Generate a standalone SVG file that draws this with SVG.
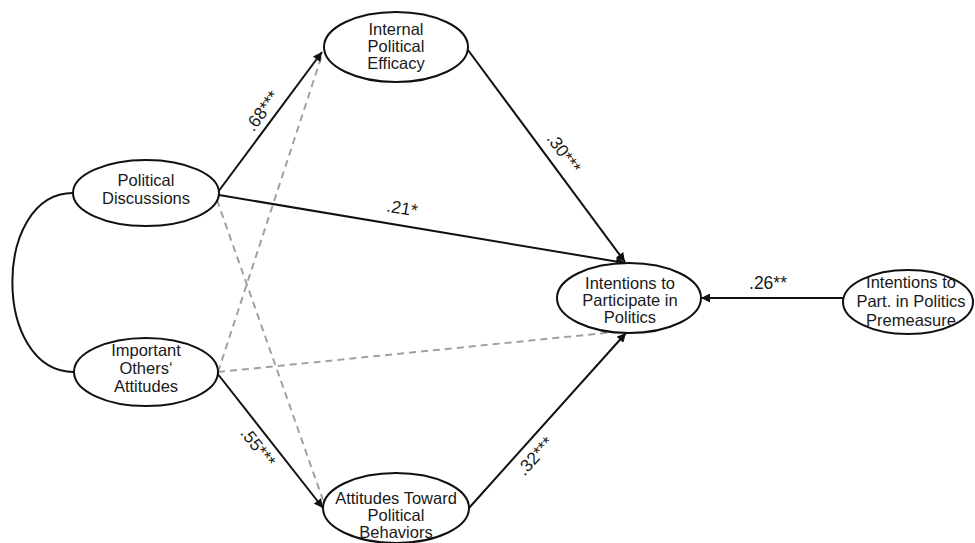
<svg xmlns="http://www.w3.org/2000/svg" width="975" height="543" viewBox="0 0 975 543">
<style>
.node ellipse{fill:#fff;stroke:#111;stroke-width:2}
.node text{font-family:"Liberation Sans",Arial,sans-serif;font-size:16.5px;fill:#1a1a1a;text-anchor:middle}
.solid{stroke:#111;stroke-width:2;fill:none}
.dash{stroke:#9aa3aa;stroke-width:2;stroke-dasharray:7 5;fill:none}
.lbl{font-family:"Liberation Sans",Arial,sans-serif;font-size:17.5px;fill:#1a1a1a;text-anchor:middle}
</style>
<defs>
<marker id="ah" viewBox="0 0 10 10" refX="10" refY="5" markerWidth="10" markerHeight="9" markerUnits="userSpaceOnUse" orient="auto"><path d="M0,0 L10,5 L0,10 z" fill="#111"/></marker>
</defs>
<g id="connectors">
<path class="solid" d="M73,193 C-8,193 -8,372 74,372"/>
<path class="dash" d="M217,200 L323,500"/>
<path class="dash" d="M218,372 L322,55"/>
<path class="dash" d="M218,372 L615,332"/>
<path class="solid" d="M218,192 L322,52" marker-end="url(#ah)"/>
<path class="solid" d="M219,195 L625,263" marker-end="url(#ah)"/>
<path class="solid" d="M468,50 L625,262" marker-end="url(#ah)"/>
<path class="solid" d="M217,373 L323,508" marker-end="url(#ah)"/>
<path class="solid" d="M469,508 L626,333" marker-end="url(#ah)"/>
<path class="solid" d="M843,298 L701,298" marker-end="url(#ah)"/>
<g transform="translate(262,111) rotate(-53.4)"><text class="lbl" x="0" y="6">.68***</text></g>
<g transform="translate(402,208) rotate(9.6)"><text class="lbl" x="0" y="6">.21*</text></g>
<g transform="translate(564,153) rotate(53.8)"><text class="lbl" x="0" y="6">.30***</text></g>
<g transform="translate(258,447) rotate(51.6)"><text class="lbl" x="0" y="6">.55***</text></g>
<g transform="translate(535,456) rotate(-48)"><text class="lbl" x="0" y="6">.32***</text></g>
<text class="lbl" x="768" y="289">.26**</text>
</g>
<g id="internal-efficacy" class="node">
<ellipse cx="396" cy="47" rx="72" ry="35"/>
<text x="396" y="35">Internal</text>
<text x="396" y="52">Political</text>
<text x="396" y="69">Efficacy</text>
</g>
<g id="political-discussions" class="node">
<ellipse cx="146" cy="193" rx="73" ry="33"/>
<text x="146" y="186">Political</text>
<text x="146" y="204">Discussions</text>
</g>
<g id="important-others" class="node">
<ellipse cx="146" cy="372" rx="72" ry="34"/>
<text x="146" y="356">Important</text>
<text x="146" y="374">Others‘</text>
<text x="146" y="392">Attitudes</text>
</g>
<g id="attitudes-behaviors" class="node">
<ellipse cx="396" cy="508" rx="73" ry="35"/>
<text x="396" y="504">Attitudes Toward</text>
<text x="396" y="521">Political</text>
<text x="396" y="538">Behaviors</text>
</g>
<g id="intentions" class="node">
<ellipse cx="629" cy="298" rx="72" ry="35"/>
<text x="630" y="289">Intentions to</text>
<text x="630" y="306">Participate in</text>
<text x="630" y="323">Politics</text>
</g>
<g id="premeasure" class="node">
<ellipse cx="908" cy="302" rx="65" ry="32"/>
<text x="911" y="288">Intentions to</text>
<text x="911" y="307">Part. in Politics</text>
<text x="911" y="326">Premeasure</text>
</g>
</svg>
